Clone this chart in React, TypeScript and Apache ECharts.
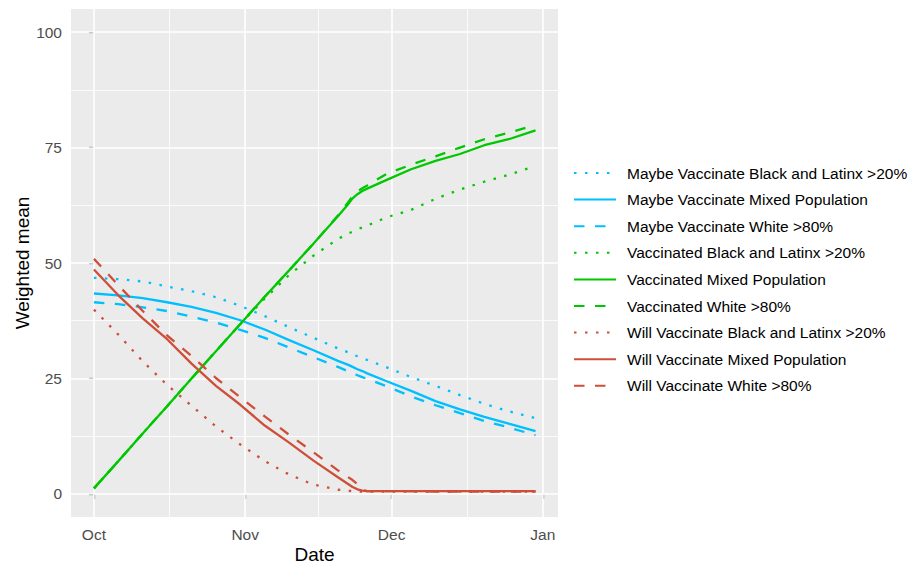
import React, { useEffect, useRef } from "react";
import * as echarts from "echarts";

// days since Oct 1
const days = [0, 5, 10, 15, 20, 25, 30, 35, 40, 45, 50, 52, 53, 54, 55, 56, 60, 65, 70, 75, 80, 85, 90.5];

const maybeBL = [46.8, 46.5, 46.0, 44.9, 43.9, 42.6, 40.7, 38.5, 36.1, 33.8, 31.5, 30.7, 30.2, 29.8, 29.4, 29.0, 27.4, 25.3, 23.4, 21.4, 19.5, 17.9, 16.4];
const maybeMixed = [43.4, 43.0, 42.4, 41.5, 40.5, 39.2, 37.6, 35.6, 33.3, 31.1, 28.8, 28.0, 27.5, 27.0, 26.6, 26.1, 24.4, 22.3, 20.1, 18.3, 16.7, 15.2, 13.6];
const maybeWhite = [41.5, 41.1, 40.4, 39.6, 38.4, 37.1, 35.5, 33.8, 31.7, 29.6, 27.5, 26.6, 26.2, 25.7, 25.3, 24.9, 23.3, 21.1, 19.2, 17.5, 15.8, 14.4, 12.7];
const vaccBL = [1.2, 7.1, 13.1, 19.0, 25.0, 30.9, 36.8, 42.3, 47.4, 51.6, 55.2, 56.3, 56.8, 57.3, 57.7, 58.1, 59.9, 61.5, 63.9, 65.9, 67.6, 69.1, 71.0];
const vaccMixed = [1.2, 7.1, 13.1, 19.0, 25.0, 30.9, 36.8, 42.7, 48.4, 54.2, 60.1, 62.6, 64.0, 64.9, 65.6, 66.1, 68.0, 70.3, 72.1, 73.6, 75.5, 76.8, 78.7];
const vaccWhite = [1.2, 7.1, 13.1, 19.0, 25.0, 30.9, 36.8, 42.7, 48.4, 54.2, 60.3, 63.0, 64.5, 65.5, 66.2, 66.8, 69.3, 71.3, 73.1, 75.0, 76.8, 78.2, 79.9];
const willBL = [39.9, 34.5, 28.7, 23.6, 19.1, 14.6, 10.7, 7.1, 4.2, 2.0, 0.9, 0.7, 0.6, 0.5, 0.5, 0.5, 0.5, 0.5, 0.5, 0.5, 0.5, 0.5, 0.5];
const willMixed = [48.6, 43.0, 38.0, 33.5, 28.2, 23.4, 19.3, 14.8, 11.1, 7.2, 3.6, 2.2, 1.5, 1.0, 0.7, 0.6, 0.6, 0.6, 0.6, 0.6, 0.6, 0.6, 0.6];
const willWhite = [50.9, 45.2, 39.6, 34.3, 29.9, 25.1, 20.9, 16.8, 12.8, 9.0, 5.1, 3.7, 3.0, 2.1, 0.8, 0.6, 0.6, 0.6, 0.5, 0.5, 0.5, 0.5, 0.5];

const seriesNames = [
  "Maybe Vaccinate Black and Latinx >20%",
  "Maybe Vaccinate Mixed Population",
  "Maybe Vaccinate White >80%",
  "Vaccinated Black and Latinx >20%",
  "Vaccinated Mixed Population",
  "Vaccinated White >80%",
  "Will Vaccinate Black and Latinx >20%",
  "Will Vaccinate Mixed Population",
  "Will Vaccinate White >80%",
];
const seriesValues = [maybeBL, maybeMixed, maybeWhite, vaccBL, vaccMixed, vaccWhite, willBL, willMixed, willWhite];

const monthTicks = [0, 31, 61, 92];
const monthLabels = ["Oct", "Nov", "Dec", "Jan"];
const monthMinor = [15.5, 46, 76.5];
const yTicks = [0, 25, 50, 75, 100];
const yMinor = [12.5, 37.5, 62.5, 87.5];

const BLUE = "#00BFFF";
const GREEN = "#00C800";
const RED = "#CD4F39";
const FONT = "Liberation Sans, Arial, sans-serif";

export default function App() {
  const ref = useRef<HTMLDivElement>(null);
  useEffect(() => {
    if (!ref.current) return;
    const chart = echarts.init(ref.current, undefined, { renderer: "svg" });
    const colors = [BLUE, BLUE, BLUE, GREEN, GREEN, GREEN, RED, RED, RED];
    const dotted = [2.5, 8.5];
    const dashed = [10.5, 10.5];
    const types: any[] = [dotted, "solid", dashed, dotted, "solid", dashed, dotted, "solid", dashed];

    const gridLines = [
      ...monthTicks.map((v) => ({ xAxis: v, lineStyle: { width: 1.6 } })),
      ...monthMinor.map((v) => ({ xAxis: v, lineStyle: { width: 0.8 } })),
      ...yTicks.map((v) => ({ yAxis: v, lineStyle: { width: 1.6 } })),
      ...yMinor.map((v) => ({ yAxis: v, lineStyle: { width: 0.8 } })),
    ];

    const series: any[] = seriesNames.map((name, k) => ({
      name,
      type: "line",
      data: days.map((d, i) => [d, seriesValues[k][i]]),
      symbol: "none",
      showSymbol: false,
      smooth: false,
      z: 3,
      itemStyle: { color: colors[k] },
      lineStyle: { color: colors[k], width: 2.3, type: types[k], cap: "butt" },
      emphasis: { disabled: true },
      ...(k === 0
        ? {
            markLine: {
              silent: true,
              z: 1,
              symbol: ["none", "none"],
              label: { show: false },
              emphasis: { disabled: true },
              lineStyle: { color: "#FFFFFF", type: "solid", width: 1.6 },
              data: gridLines,
            },
          }
        : {}),
    }));

    chart.setOption({
      animation: false,
      textStyle: { fontFamily: FONT },
      grid: {
        left: 71,
        right: 356,
        top: 9,
        bottom: 47,
        show: true,
        backgroundColor: "#EBEBEB",
        borderWidth: 0,
      },
      xAxis: {
        type: "value",
        min: -4.7,
        max: 95.1,
        axisLine: { show: false },
        splitLine: { show: false },
        axisTick: {
          show: true,
          customValues: monthTicks,
          length: 5,
          lineStyle: { color: "#333333", width: 1.2 },
        },
        axisLabel: {
          customValues: monthTicks,
          margin: 9,
          color: "#4D4D4D",
          fontSize: 15.5,
          fontFamily: FONT,
          formatter: (v: number) => {
            const i = monthTicks.indexOf(Math.round(v));
            return i >= 0 ? monthLabels[i] : "";
          },
        },
      },
      yAxis: {
        type: "value",
        min: -5,
        max: 105,
        axisLine: { show: false },
        splitLine: { show: false },
        axisTick: {
          show: true,
          customValues: yTicks,
          length: 5,
          lineStyle: { color: "#333333", width: 1.2 },
        },
        axisLabel: {
          customValues: yTicks,
          margin: 9,
          color: "#4D4D4D",
          fontSize: 15.5,
          fontFamily: FONT,
        },
      },
      legend: {
        show: true,
        orient: "vertical",
        left: 573,
        top: 164,
        padding: 0,
        itemWidth: 42,
        itemHeight: 18,
        itemGap: 8.6,
        data: seriesNames,
        itemStyle: { opacity: 0 },
        textStyle: {
          color: "#000000",
          fontSize: 15.5,
          fontFamily: FONT,
          lineHeight: 18,
          padding: [0, 0, 0, 6],
        },
        selectedMode: false,
      },
      graphic: [
        {
          type: "text",
          x: 314.5,
          y: 554,
          style: {
            text: "Date",
            fill: "#000000",
            font: `19px ${FONT}`,
            lineHeight: 19,
            textAlign: "center",
            textVerticalAlign: "middle",
          },
        },
        {
          type: "text",
          x: 22,
          y: 263,
          rotation: Math.PI / 2,
          style: {
            text: "Weighted mean",
            fill: "#000000",
            font: `19px ${FONT}`,
            textAlign: "center",
            textVerticalAlign: "middle",
          },
        },
      ],
      series,
    });
    return () => chart.dispose();
  }, []);
  return (
    <div
      ref={ref}
      style={{ position: "fixed", left: 0, top: 0, width: 914, height: 564, background: "#FFFFFF" }}
    />
  );
}
